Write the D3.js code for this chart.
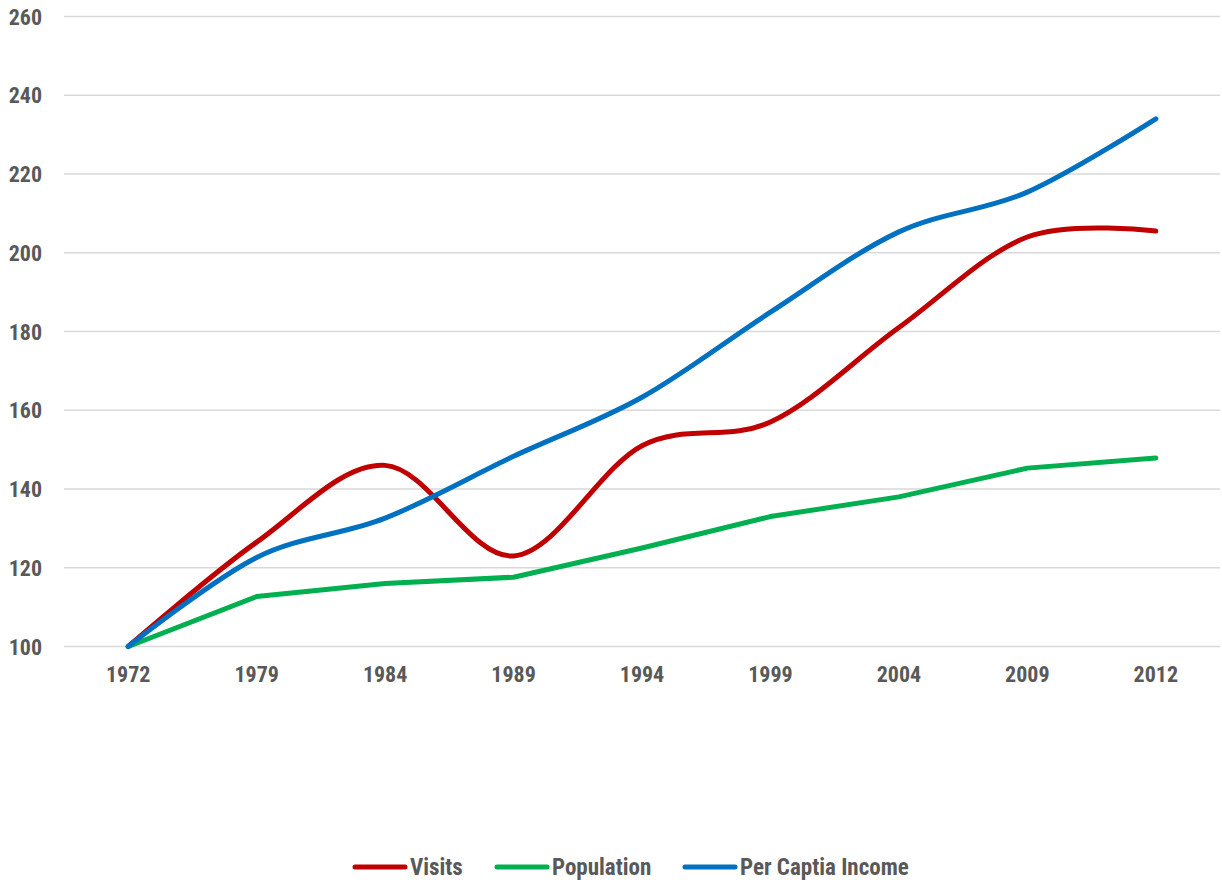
<!DOCTYPE html>
<html>
<head>
<meta charset="utf-8">
<script src="https://cdn.jsdelivr.net/npm/d3@7"></script>
<style>
  body { margin: 0; background: #fff; }
  text { font-family: "Liberation Sans Narrow", "Arial Narrow", "Roboto Condensed", sans-serif; font-weight: bold; fill: #595959; }
</style>
</head>
<body>
<div id="canvas"></div>
<script>
const years = ["1972", "1979", "1984", "1989", "1994", "1999", "2004", "2009", "2012"];
const visits = [100, 126.5, 146, 123, 151, 157, 181, 204, 205.5];
const population = [100, 112.7, 116, 117.6, 125, 133, 138, 145.3, 147.9];
const income = [100, 122.6, 132.6, 148.3, 163.3, 184.9, 205.3, 215.4, 234];
const yTicks = [100, 120, 140, 160, 180, 200, 220, 240, 260];

const series = [
  { name: "Visits", values: visits, color: "#C00000", smooth: true },
  { name: "Population", values: population, color: "#00B050", smooth: false },
  { name: "Per Captia Income", values: income, color: "#0070C0", smooth: true }
];

const width = 1222;
const height = 884;
const margin = { top: 16.5, left: 64, bottom: 237.5, right: 2 };
const iwidth = width - margin.left - margin.right;
const iheight = height - margin.top - margin.bottom;

const svg = d3.select("#canvas").append("svg")
  .attr("width", width)
  .attr("height", height);

const g = svg.append("g").attr("transform", `translate(${margin.left},${margin.top})`);

const x = d3.scaleBand().domain(years).range([0, iwidth]);
const y = d3.scaleLinear().domain([100, 260]).range([iheight, 0]);

// gridlines
g.append("g")
  .selectAll("line")
  .data(yTicks)
  .join("line")
  .attr("x1", 0)
  .attr("x2", iwidth)
  .attr("y1", d => y(d))
  .attr("y2", d => y(d))
  .attr("stroke", "#D9D9D9")
  .attr("stroke-width", 1.5);

// y axis labels
const yAxis = g.append("g")
  .call(d3.axisLeft(y).tickValues(yTicks).tickSize(0).tickPadding(22));
yAxis.select(".domain").remove();
yAxis.selectAll("text").attr("font-size", 22).attr("dy", "0.35em");

// x axis labels
const xAxis = g.append("g")
  .attr("transform", `translate(0,${iheight})`)
  .call(d3.axisBottom(x).tickSize(0).tickPadding(20));
xAxis.select(".domain").remove();
xAxis.selectAll("text").attr("font-size", 22);

svg.selectAll(".tick text").attr("font-family", null);

// lines
series.forEach(s => {
  const line = d3.line()
    .x((d, i) => x(years[i]) + x.bandwidth() / 2)
    .y(d => y(d))
    .curve(s.smooth ? d3.curveCardinal.tension(0) : d3.curveLinear);
  g.append("path")
    .datum(s.values)
    .attr("fill", "none")
    .attr("stroke", s.color)
    .attr("stroke-width", 5)
    .attr("stroke-linecap", "round")
    .attr("stroke-linejoin", "round")
    .attr("d", line);
});

// legend
const legendX = [352, 494, 682];
const legend = svg.append("g").attr("transform", "translate(0,867)");
series.forEach((s, i) => {
  const item = legend.append("g").attr("transform", `translate(${legendX[i]},0)`);
  item.append("line")
    .attr("x1", 3).attr("x2", 53)
    .attr("stroke", s.color)
    .attr("stroke-width", 5)
    .attr("stroke-linecap", "round");
  item.append("text")
    .attr("x", 58)
    .attr("dy", "0.35em")
    .attr("font-size", 23)
    .text(s.name);
});
</script>
</body>
</html>
